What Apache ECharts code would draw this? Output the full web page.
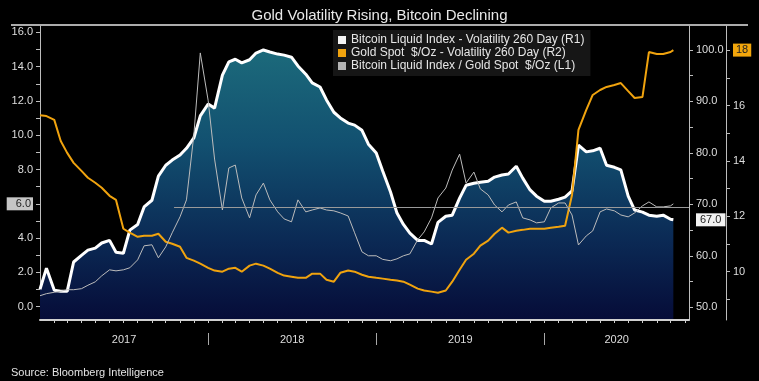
<!DOCTYPE html>
<html><head><meta charset="utf-8">
<script src="https://cdn.jsdelivr.net/npm/echarts@6/dist/echarts.min.js"></script>
<style>html,body{margin:0;padding:0;background:#000;}#c{width:759px;height:381px;}</style>
</head><body><div id="c"></div>
<script>
const titleText = 'Gold Volatility Rising, Bitcoin Declining';
const sourceText = 'Source: Bloomberg Intelligence';
const seriesNames = [
  'Bitcoin Liquid Index - Volatility 260 Day (R1)',
  'Gold Spot  $/Oz - Volatility 260 Day (R2)',
  'Bitcoin Liquid Index / Gold Spot  $/Oz (L1)'
];

// semi-monthly observation dates (1st and 15th), 2017-01-01 .. 2020-10-01, plus last print
const dates = [];
for (let y = 2017; y <= 2020; y++) for (let m = 1; m <= 12; m++) for (const d of [1, 15]) {
  const s = y + '-' + String(m).padStart(2, '0') + '-' + String(d).padStart(2, '0');
  if (s <= '2020-10-01') dates.push(s);
}
dates.push('2020-10-07');

// Bitcoin Liquid Index - Volatility 260 Day (R1)
const btcVol = [53.5,57.6,53.3,53.1,53.1,58.8,60.1,61.1,61.5,62.5,63.0,60.7,
  60.5,65.0,66.1,69.5,70.8,75.5,77.6,78.6,79.6,80.9,82.9,87.2,
  89.5,88.7,95.1,97.7,98.2,97.5,98.1,99.4,100.0,99.6,99.2,99.0,
  98.6,96.9,95.3,93.6,92.8,90.3,87.9,86.8,85.8,85.4,84.4,81.7,
  80.0,76.5,72.4,68.3,66.1,64.4,63.0,63.0,62.3,66.5,67.7,67.9,
  71.2,73.7,74.1,74.3,74.5,75.3,75.7,75.9,77.4,75.1,72.8,71.6,
  70.6,70.6,71.0,71.4,72.6,81.5,80.2,80.4,80.9,77.6,77.2,76.7,
  71.6,68.9,68.5,67.9,67.7,67.9,67.1,67.0];

// Gold Spot $/Oz - Volatility 260 Day (R2)
const goldVol = [15.65,15.62,15.48,14.72,14.29,13.93,13.64,13.39,13.21,13.03,12.74,12.59,
  11.55,11.41,11.26,11.30,11.30,11.37,11.08,11.01,10.90,10.50,10.40,10.29,
  10.14,10.04,10.00,10.11,10.14,10.00,10.22,10.29,10.22,10.11,9.96,9.86,
  9.82,9.78,9.78,9.93,9.93,9.71,9.64,9.96,10.04,10.00,9.89,9.82,
  9.78,9.75,9.71,9.68,9.64,9.53,9.39,9.32,9.28,9.24,9.32,9.64,
  10.07,10.43,10.65,10.94,11.12,11.37,11.59,11.41,11.48,11.51,11.55,11.55,
  11.55,11.59,11.62,11.66,12.77,15.12,15.84,16.38,16.56,16.67,16.74,16.81,
  16.52,16.27,16.31,17.93,17.86,17.86,17.93,18.0];

// Bitcoin Liquid Index / Gold Spot $/Oz (L1)
const ratio = [0.64,0.76,0.84,0.90,0.99,0.99,1.05,1.25,1.45,1.80,2.15,2.09,
  2.15,2.27,2.73,3.55,3.61,2.85,3.49,4.31,5.24,6.23,10.01,14.8,
  12.04,8.61,5.64,8.09,8.26,6.34,5.18,6.52,7.21,6.23,5.53,5.12,
  4.95,6.23,5.53,5.64,5.76,5.64,5.59,5.47,5.29,4.31,3.20,2.97,
  2.97,2.76,2.68,2.79,2.97,3.08,3.90,4.36,5.18,6.34,6.92,7.97,
  8.90,7.21,7.85,6.87,6.52,5.93,5.53,5.93,6.11,5.18,5.06,4.89,
  4.95,5.76,6.05,6.05,5.35,3.6,4.13,4.42,5.53,5.70,5.59,5.35,
  5.24,5.47,5.88,6.11,5.82,5.82,5.88,6.0];

// tick / label values
const l1Labels = [0,2,4,6,8,10,12,14,16];
const l1Ticks = [0,1,2,3,4,5,6,7,8,9,10,11,12,13,14,15,16];
const r1Labels = [50,60,67,70,80,90,100];
const r1Ticks = [50,55,60,65,70,75,80,85,90,95,100];
const r2Labels = [10,12,14,16,18];
const r2Ticks = [9,10,11,12,13,14,15,16,17,18];
const lastL1 = 6, lastR1 = 67, lastR2 = 18;
const yearLabels = ['2017','2018','2019','2020'];
const refLineValue = 5.8;
const refLineStart = '2017-10-19';

const toTs = s => { const p = s.split('-').map(Number); return new Date(p[0], p[1] - 1, p[2]).getTime(); };
const xStart = toTs('2017-01-01');
const xEnd = toTs('2020-11-10');
const monthTicks = [];
for (let y = 2017; y <= 2020; y++) for (let m = 0; m < 12; m++) {
  const t = new Date(y, m, 1).getTime();
  if (t > xStart && t < xEnd) monthTicks.push(t);
}
const yearTicks = [2018, 2019, 2020].map(y => new Date(y, 0, 1).getTime());
const yearMids = yearLabels.map(ys => {
  const y = +ys;
  const a = Math.max(xStart, new Date(y, 0, 1).getTime());
  const b = Math.min(xEnd, new Date(y + 1, 0, 1).getTime());
  return (a + b) / 2;
});

const FONT = '"Liberation Sans", Arial, sans-serif';
const AX = '#bdbdbd';
const LBL = '#dedede';

const chart = echarts.init(document.getElementById('c'), null, {renderer: 'canvas'});
chart.setOption({
  backgroundColor: '#000',
  animation: false,
  textStyle: {fontFamily: FONT},
  title: [
    {text: titleText, left: 'center', top: 3, textStyle: {color: '#e8e8e8', fontSize: 15, fontWeight: 'normal', fontFamily: FONT}},
    {text: sourceText, left: 6, top: 362, textStyle: {color: '#e4e4e4', fontSize: 11, fontWeight: 'normal', fontFamily: FONT}}
  ],
  graphic: [{type: 'line', shape: {x1: 11, y1: 25, x2: 748, y2: 25}, style: {stroke: '#e6e6e6', lineWidth: 1.5}, silent: true}],
  legend: {
    left: 333, top: 30, orient: 'vertical', backgroundColor: '#161616',
    padding: [4, 6, 4, 5], itemWidth: 8, itemHeight: 8, itemGap: 1, icon: 'rect',
    textStyle: {color: '#e6e6e6', fontSize: 12, fontFamily: FONT},
    data: [
      {name: seriesNames[0], itemStyle: {color: '#f4f4f4', borderWidth: 0}},
      {name: seriesNames[1], itemStyle: {color: '#f0a30e', borderWidth: 0}},
      {name: seriesNames[2], itemStyle: {color: '#b4b4b4', borderWidth: 0}}
    ]
  },
  grid: {left: 40, right: 70, top: 26, bottom: 61, containLabel: false},
  xAxis: [
    {type: 'value', min: xStart, max: xEnd, position: 'bottom', z: 6,
      axisLine: {show: true, onZero: false, lineStyle: {color: '#d0d0d0', width: 2}},
      axisTick: {show: true, customValues: monthTicks, length: 3, lineStyle: {color: '#d0d0d0', width: 1}},
      axisLabel: {show: true, customValues: yearMids, margin: 14, color: LBL, fontSize: 11, fontFamily: FONT,
        formatter: v => String(new Date(v).getFullYear())},
      splitLine: {show: false}},
    {type: 'value', min: xStart, max: xEnd, position: 'bottom', offset: 13,
      axisLine: {show: false, onZero: false},
      axisTick: {show: true, customValues: yearTicks, length: 12, lineStyle: {color: '#a8a8a8'}},
      axisLabel: {show: false}, splitLine: {show: false}}
  ],
  yAxis: [
    {type: 'value', position: 'left', min: -0.776, max: 16.37, splitLine: {show: false},
      axisLine: {show: true, onZero: false, lineStyle: {color: AX}},
      axisTick: {show: true, customValues: l1Ticks, length: 4, lineStyle: {color: AX}},
      axisLabel: {customValues: l1Labels, color: LBL, fontSize: 11, margin: 7, fontFamily: FONT,
        formatter: v => v === lastL1 ? '{hl|' + v.toFixed(1) + '}' : v.toFixed(1),
        rich: {hl: {backgroundColor: '#c6c6c6', color: '#222', fontSize: 11, padding: [1, 2, 1, 9], fontFamily: FONT}}}},
    {type: 'value', position: 'right', min: 47.53, max: 104.66, splitLine: {show: false},
      axisLine: {show: true, onZero: false, lineStyle: {color: AX}},
      axisTick: {show: true, customValues: r1Ticks, length: 4, lineStyle: {color: AX}},
      axisLabel: {customValues: r1Labels, color: LBL, fontSize: 11, margin: 7, fontFamily: FONT,
        formatter: v => v === lastR1 ? '{hl|' + v.toFixed(1) + '}' : v.toFixed(1),
        rich: {hl: {backgroundColor: '#f2f2f2', color: '#222', fontSize: 11, padding: [1, 4, 1, 4], fontFamily: FONT}}}},
    {type: 'value', position: 'right', offset: 37, min: 8.256, max: 18.87, splitLine: {show: false},
      axisLine: {show: true, onZero: false, lineStyle: {color: AX}},
      axisTick: {show: true, customValues: r2Ticks, length: 4, lineStyle: {color: AX}},
      axisLabel: {customValues: r2Labels, color: LBL, fontSize: 11, margin: 7, fontFamily: FONT,
        formatter: v => v === lastR2 ? '{hl|' + v + '}' : String(v),
        rich: {hl: {backgroundColor: '#f2a60c', color: '#222', fontSize: 11, padding: [1, 3, 1, 3], fontFamily: FONT}}}}
  ],
  series: [
    {name: seriesNames[0], type: 'line', xAxisIndex: 0, yAxisIndex: 1, z: 1,
      data: dates.map((d, i) => [toTs(d), btcVol[i]]), showSymbol: false, symbol: 'none',
      lineStyle: {color: '#ffffff', width: 3}, itemStyle: {color: '#ffffff'},
      areaStyle: {origin: 'start', opacity: 1, color: new echarts.graphic.LinearGradient(0, 0, 0, 1, [
        {offset: 0, color: '#1c6a7b'}, {offset: 0.35, color: '#125070'},
        {offset: 0.7, color: '#0b2a55'}, {offset: 1, color: '#060c38'}])}},
    {name: seriesNames[1], type: 'line', xAxisIndex: 0, yAxisIndex: 2, z: 3,
      data: dates.map((d, i) => [toTs(d), goldVol[i]]), showSymbol: false, symbol: 'none',
      lineStyle: {color: '#f0a30e', width: 2}, itemStyle: {color: '#f0a30e'}},
    {name: seriesNames[2], type: 'line', xAxisIndex: 0, yAxisIndex: 0, z: 4,
      data: dates.map((d, i) => [toTs(d), ratio[i]]), showSymbol: false, symbol: 'none',
      lineStyle: {color: '#bcbcbc', width: 1}, itemStyle: {color: '#bcbcbc'},
      markLine: {silent: true, symbol: ['none', 'none'], label: {show: false},
        lineStyle: {color: '#9a9a9a', width: 1, type: 'solid'},
        data: [[{coord: [toTs(refLineStart), refLineValue]}, {coord: [xEnd, refLineValue]}]]}}
  ]
});
</script></body></html>
